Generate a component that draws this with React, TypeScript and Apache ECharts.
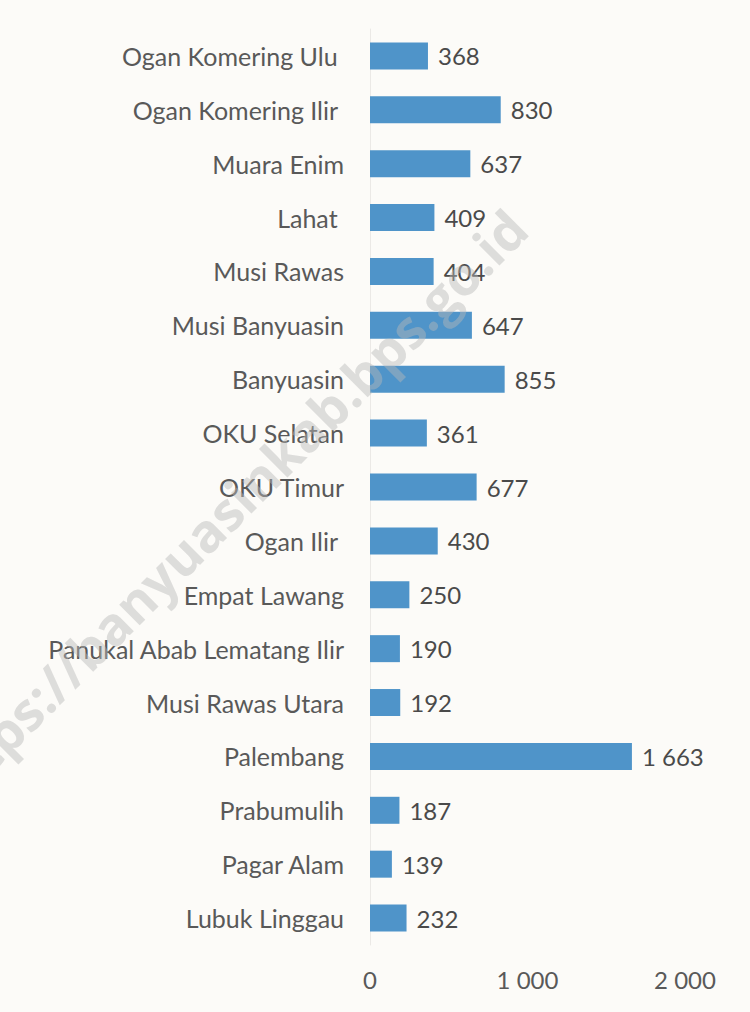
import React, { useEffect, useRef } from "react";
import * as echarts from "echarts";

const categories = [
  "Ogan Komering Ulu ",
  "Ogan Komering Ilir ",
  "Muara Enim",
  "Lahat ",
  "Musi Rawas",
  "Musi Banyuasin",
  "Banyuasin",
  "OKU Selatan",
  "OKU Timur",
  "Ogan Ilir ",
  "Empat Lawang",
  "Panukal Abab Lematang Ilir",
  "Musi Rawas Utara",
  "Palembang",
  "Prabumulih",
  "Pagar Alam",
  "Lubuk Linggau",
];

const values = [368, 830, 637, 409, 404, 647, 855, 361, 677, 430, 250, 190, 192, 1663, 187, 139, 232];

const watermarkText = "https://banyuasinkab.bps.go.id";

const fmt = (v: number) => String(v).replace(/\B(?=(\d{3})+(?!\d))/g, " ");

export default function App() {
  const ref = useRef<HTMLDivElement>(null);
  useEffect(() => {
    if (!ref.current) return;
    const chart = echarts.init(ref.current, null, { renderer: "svg" });
    const font = "Lato, 'Open Sans', sans-serif";
    chart.setOption({
      animation: false,
      backgroundColor: "#fcfbf8",
      grid: { left: 370, right: 65, top: 29, bottom: 67, containLabel: false },
      xAxis: {
        type: "value",
        min: 0,
        max: 2000,
        interval: 1000,
        axisLine: { show: false },
        axisTick: { show: false },
        splitLine: { show: false },
        axisLabel: {
          color: "#595959",
          fontSize: 24,
          fontFamily: font,
          margin: 22,
          formatter: (v: number) => fmt(v),
        },
      },
      yAxis: {
        type: "category",
        data: categories,
        inverse: true,
        axisLine: { show: true, lineStyle: { color: "#ebe9e6", width: 1 } },
        axisTick: { show: false },
        axisLabel: {
          color: "#595959",
          fontSize: 25,
          fontFamily: font,
          margin: 26,
        },
      },
      series: [
        {
          type: "bar",
          data: values,
          barWidth: 27,
          itemStyle: { color: "#4f94c9" },
          label: {
            show: true,
            position: "right",
            distance: 10,
            color: "#4a4a4a",
            fontSize: 24,
            fontFamily: font,
            formatter: (p: any) => fmt(p.value),
          },
        },
      ],
      graphic: [
        {
          type: "text",
          x: 226,
          y: 510,
          rotation: Math.PI / 4,
          z: 100,
          silent: true,
          style: {
            text: watermarkText,
            fontSize: 53,
            fontWeight: "bold",
            fontFamily: "'Open Sans', sans-serif",
            fill: "rgba(185,185,185,0.45)",
            align: "center",
            verticalAlign: "middle",
          },
        },
      ],
    });
    return () => chart.dispose();
  }, []);
  return (
    <div
      ref={ref}
      style={{ position: "fixed", left: 0, top: 0, width: 750, height: 1012 }}
    />
  );
}
